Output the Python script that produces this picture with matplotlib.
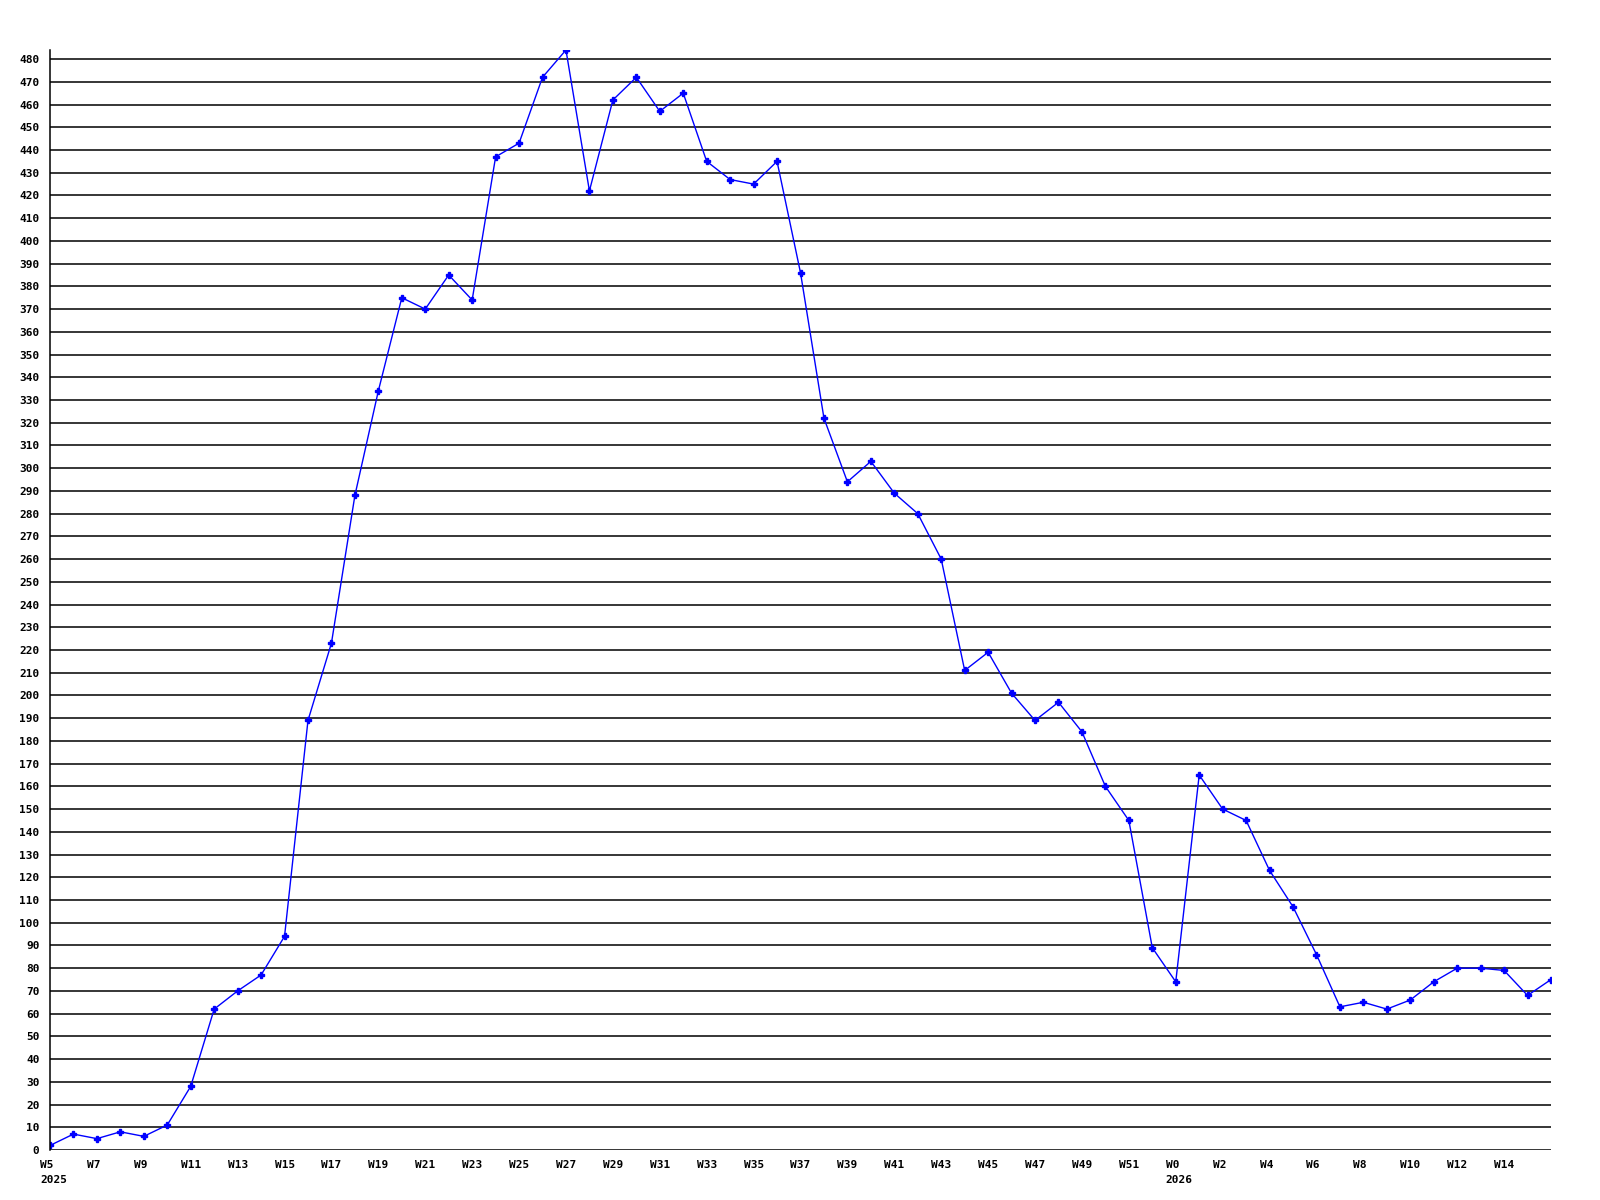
import matplotlib
matplotlib.use('Agg')
import matplotlib.pyplot as plt
import numpy as np

# weekly values, W5 2025 .. W16 2026
weeks_2025 = list(range(5, 53))
weeks_2026 = list(range(0, 17))
values = [2, 7, 5, 8, 6, 11, 28, 62, 70, 77, 94, 189, 223, 288, 334, 375,
          370, 385, 374, 437, 443, 472, 484, 422, 462, 472, 457, 465, 435,
          427, 425, 435, 386, 322, 294, 303, 289, 280, 260, 211, 219, 201,
          189, 197, 184, 160, 145, 89, 74, 165, 150, 145, 123, 107, 86, 63,
          65, 62, 66, 74, 80, 80, 79, 68, 75]
y_ticks = list(range(0, 481, 10))

labels = ['W%d' % w for w in weeks_2025] + ['W%d' % w for w in weeks_2026]
labels[0] += '\n2025'
labels[len(weeks_2025)] += '\n2026'
x = np.arange(len(values))

fig = plt.figure(figsize=(16, 12), dpi=100)
ax = fig.add_axes([50/1600, 50/1200, 1501/1600, 1100/1200])

for t in y_ticks:
    ax.axhline(t, color='black', linewidth=1.1, zorder=1)
ax.plot(x, values, color='#0000ff', linewidth=1.0, marker='P',
        markersize=4.5, zorder=2, clip_on=True)

ax.set_xlim(0, len(values) - 1)
ax.set_ylim(0, max(values))
ax.set_yticks(y_ticks)
ax.set_xticks([])

font = dict(family='DejaVu Sans Mono', weight='bold', size=8)
for lab in ax.get_yticklabels():
    lab.set(**font)

# week labels, left aligned a little left of each point (last one left out)
for i in x[:-1:2]:
    ax.annotate(labels[i], xy=(i, 0), xycoords=('data', 'axes fraction'),
                xytext=(-7.2, -7.5), textcoords='offset points',
                ha='left', va='top', ma='left', linespacing=1.6,
                annotation_clip=False, **font)

ax.tick_params(axis='both', length=0)
ax.tick_params(axis='y', pad=7.5)
for s in ['top', 'right', 'bottom']:
    ax.spines[s].set_visible(False)
ax.spines['left'].set_linewidth(1.1)

fig.savefig('out.png', dpi=100)
